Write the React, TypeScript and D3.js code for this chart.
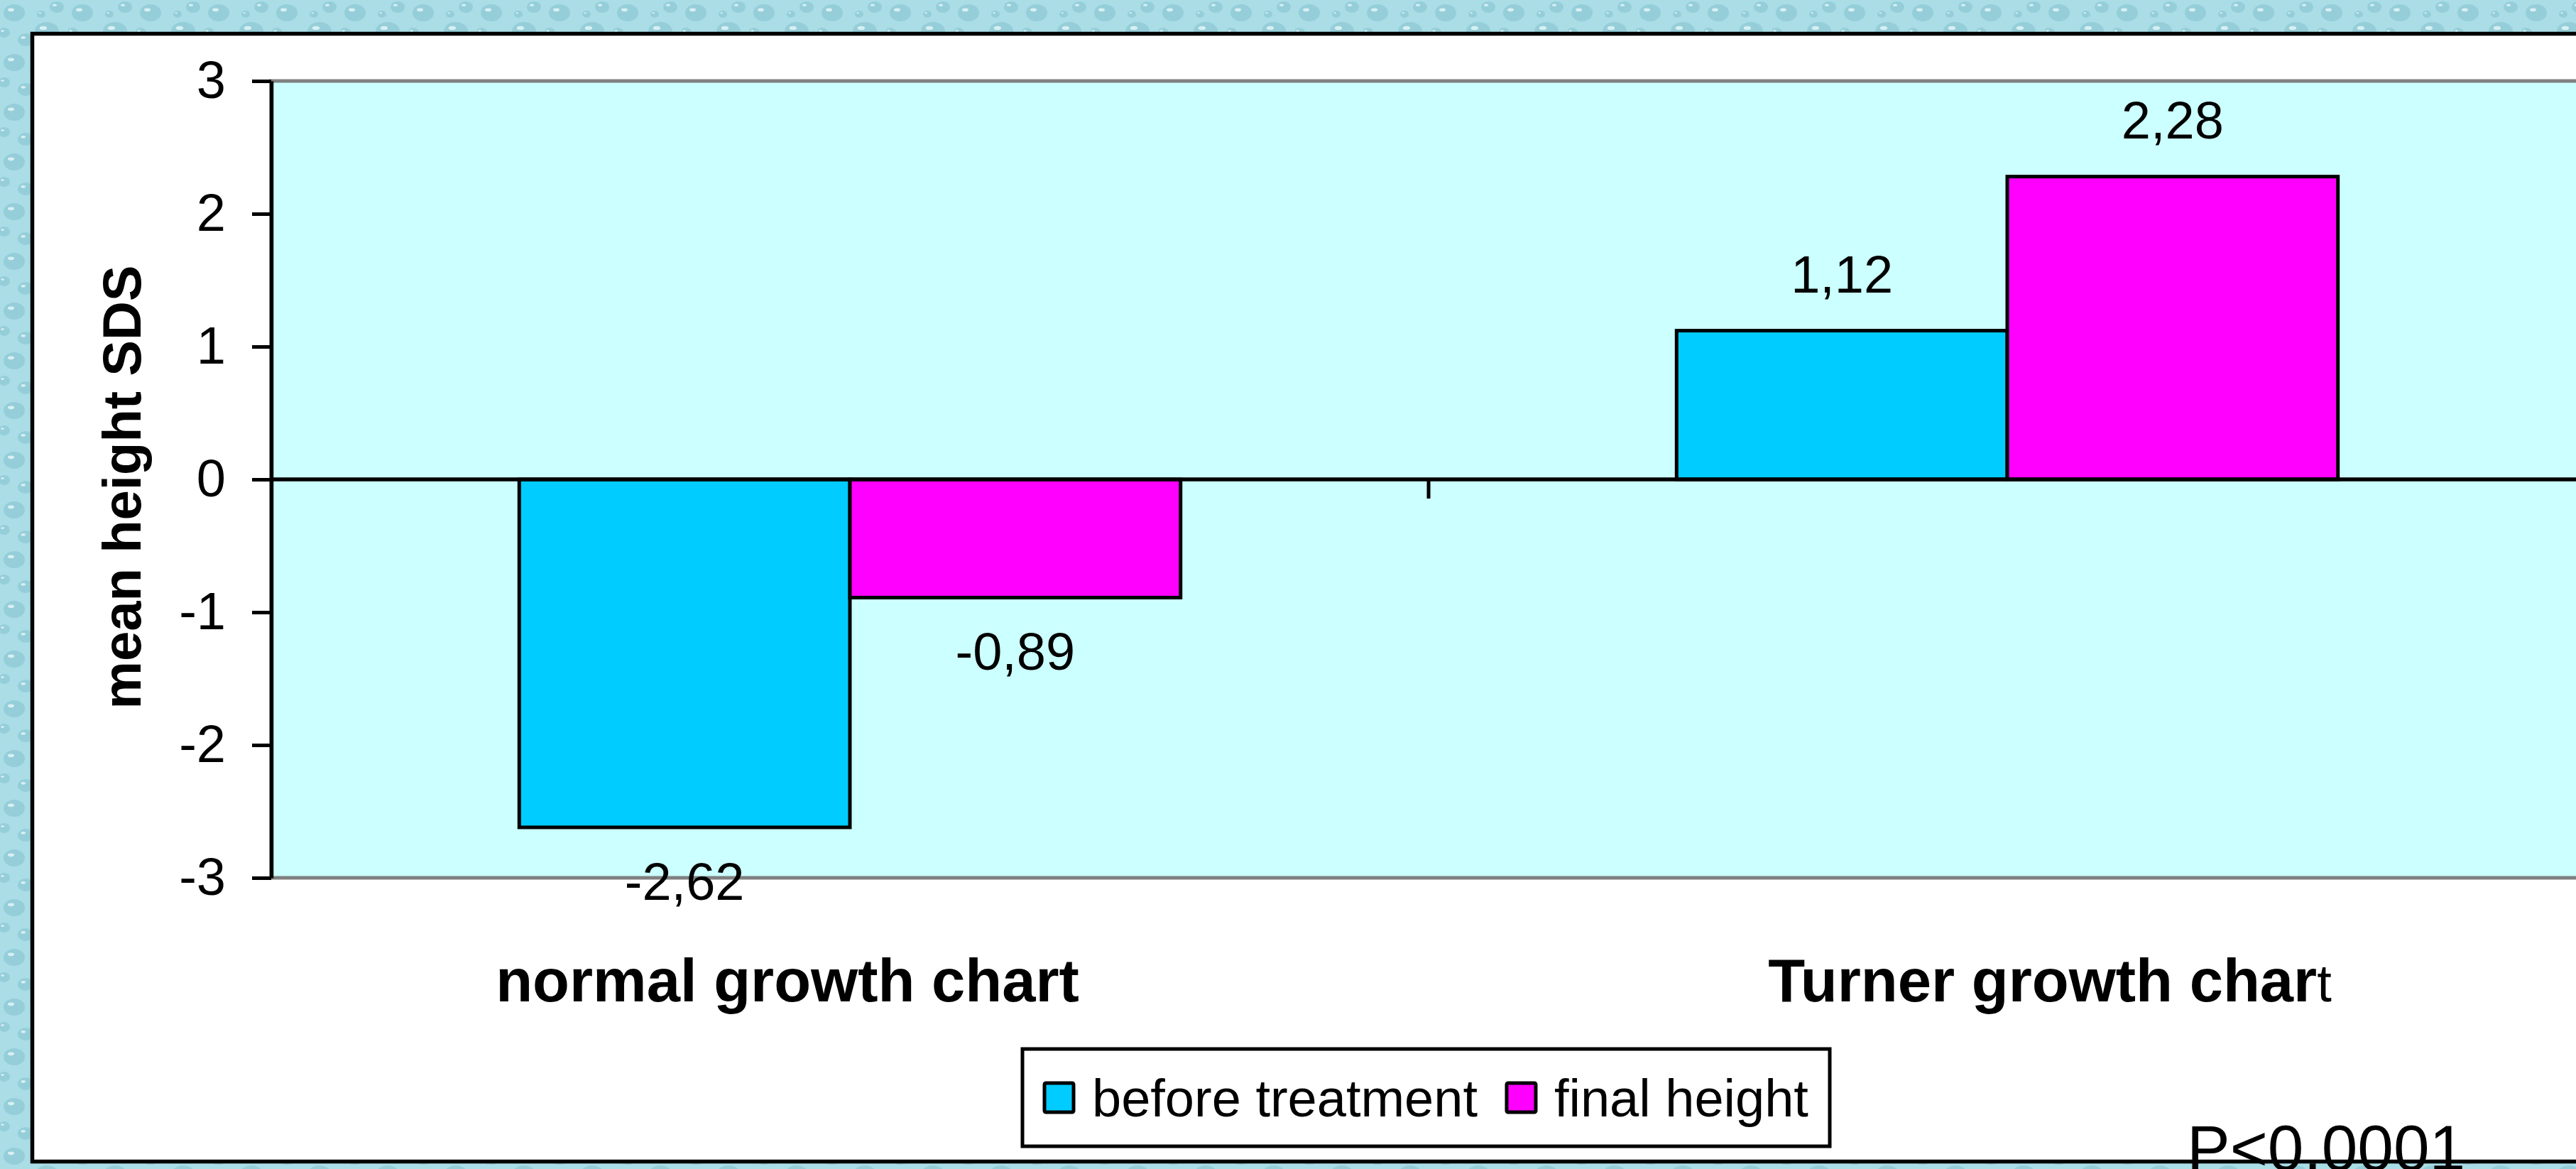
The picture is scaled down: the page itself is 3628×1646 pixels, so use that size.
import React, { useEffect, useRef } from 'react';
import * as d3 from 'd3';

const categories = ['normal growth chart', 'Turner growth chart'];
const seriesNames = ['before treatment', 'final height'];
const beforeTreatment = [-2.62, 1.12];
const finalHeight = [-0.89, 2.28];
const yTicks = [-3, -2, -1, 0, 1, 2, 3];
const yTitle = 'mean height SDS';
const note = 'P<0.0001';

const colors = ['#00ccff', '#ff00ff'];
const FONT = "'Liberation Sans', Arial, Helvetica, sans-serif";

const App = () => {
  const ref = useRef<SVGSVGElement>(null);

  useEffect(() => {
    const W = 3628, H = 1646;
    const svg = d3.select(ref.current).attr('width', W).attr('height', H);
    svg.selectAll('*').remove();

    // water-drop textured backdrop
    const defs = svg.append('defs');
    const pat = defs.append('pattern')
      .attr('id', 'drops')
      .attr('patternUnits', 'userSpaceOnUse')
      .attr('width', 96).attr('height', 70);
    pat.append('rect').attr('width', 96).attr('height', 70).attr('fill', '#aadde6');
    [[20, 18, 15, 12], [66, 44, 17, 13], [80, 10, 10, 8], [36, 56, 11, 9], [6, 46, 8, 7], [58, 20, 6, 5]].forEach(([cx, cy, rx, ry]) => {
      pat.append('ellipse').attr('cx', cx).attr('cy', cy).attr('rx', rx).attr('ry', ry)
        .attr('fill', '#7fbfcc').attr('opacity', 0.5);
      pat.append('ellipse').attr('cx', cx - rx * 0.3).attr('cy', cy - ry * 0.35).attr('rx', rx * 0.3).attr('ry', ry * 0.2)
        .attr('fill', '#eefafc').attr('opacity', 0.75);
    });
    svg.append('rect').attr('width', W).attr('height', H).attr('fill', 'url(#drops)');

    // chart frame
    svg.append('rect')
      .attr('x', 45.5).attr('y', 47.5)
      .attr('width', W).attr('height', 1588)
      .attr('fill', '#fff').attr('stroke', '#000').attr('stroke-width', 5.5);

    const x = d3.scaleBand().domain(categories).range([382, 3642]);
    const xSub = d3.scaleBand().domain(seriesNames).range([0, x.bandwidth()]).paddingOuter(0.75);
    const y = d3.scaleLinear().domain([-3, 3]).range([1236, 114]);

    // plot area
    svg.append('rect')
      .attr('x', 382).attr('y', y(3))
      .attr('width', 3642 - 382).attr('height', y(-3) - y(3))
      .attr('fill', '#ccffff').attr('stroke', '#808080').attr('stroke-width', 5);

    const series = [beforeTreatment, finalHeight];
    const fmt = d3.formatLocale({ decimal: ',', thousands: '.', grouping: [3], currency: ['', ''], minus: '-' }).format('.2f');

    series.forEach((vals, si) => {
      const g = svg.append('g');
      g.selectAll('rect')
        .data(vals)
        .enter().append('rect')
        .attr('x', (d, i) => x(categories[i])! + xSub(seriesNames[si])!)
        .attr('y', d => y(Math.max(0, d)))
        .attr('width', xSub.bandwidth())
        .attr('height', d => Math.abs(y(d) - y(0)))
        .attr('fill', colors[si])
        .attr('stroke', '#000').attr('stroke-width', 5);

      g.selectAll('text')
        .data(vals)
        .enter().append('text')
        .attr('x', (d, i) => x(categories[i])! + xSub(seriesNames[si])! + xSub.bandwidth() / 2)
        .attr('y', d => (d >= 0 ? y(d) - 54 : y(d) + 102))
        .attr('text-anchor', 'middle')
        .attr('font-family', FONT).attr('font-size', 74)
        .text(d => fmt(d));
    });

    // zero line with category ticks
    svg.append('line')
      .attr('x1', 382).attr('x2', 3642).attr('y1', y(0)).attr('y2', y(0))
      .attr('stroke', '#000').attr('stroke-width', 5.5);
    svg.append('g').selectAll('line')
      .data(categories.slice(1))
      .enter().append('line')
      .attr('x1', d => x(d)!).attr('x2', d => x(d)!)
      .attr('y1', y(0)).attr('y2', y(0) + 27)
      .attr('stroke', '#000').attr('stroke-width', 5);

    // y axis
    const yAxis = svg.append('g')
      .attr('transform', 'translate(382,0)')
      .call(d3.axisLeft(y).tickValues(yTicks).tickSize(27).tickSizeOuter(0).tickPadding(37).tickFormat(d => String(d)));
    yAxis.select('.domain').attr('stroke', '#000').attr('stroke-width', 5.5);
    yAxis.selectAll('.tick line').attr('stroke', '#000').attr('stroke-width', 5);
    yAxis.selectAll('.tick text')
      .attr('font-family', FONT).attr('font-size', 74).attr('fill', '#000');

    svg.append('text')
      .attr('transform', 'translate(198,686) rotate(-90)')
      .attr('text-anchor', 'middle')
      .attr('font-family', FONT).attr('font-size', 76).attr('font-weight', 'bold')
      .text(yTitle);

    // category labels (sit a little off the band centres, as in the original)
    const labelShift = [-88, 60];
    categories.forEach((c, i) => {
      const t = svg.append('text')
        .attr('x', x(c)! + x.bandwidth() / 2 + labelShift[i])
        .attr('y', 1410)
        .attr('text-anchor', 'middle')
        .attr('font-family', FONT).attr('font-size', 85).attr('font-weight', 'bold');
      if (i === 1) {
        t.append('tspan').text(c.slice(0, -1));
        t.append('tspan').attr('font-weight', 'normal').attr('font-size', 74).text(c.slice(-1));
      } else {
        t.text(c);
      }
    });

    // legend
    const lg = svg.append('g');
    lg.append('rect')
      .attr('x', 1440).attr('y', 1477).attr('width', 1137).attr('height', 137)
      .attr('fill', '#fff').attr('stroke', '#000').attr('stroke-width', 5);
    let lx = 1471;
    seriesNames.forEach((s, i) => {
      lg.append('rect')
        .attr('x', lx).attr('y', 1525).attr('width', 41).attr('height', 41)
        .attr('fill', colors[i]).attr('stroke', '#000').attr('stroke-width', 5).attr('rx', 2);
      const t = lg.append('text')
        .attr('x', lx + 67).attr('y', 1572)
        .attr('font-family', FONT).attr('font-size', 74)
        .text(s);
      const w = (t.node() as SVGTextElement).getComputedTextLength();
      lx = lx + 67 + w + 41;
    });

    // the p-value runs past the frame's bottom edge in the original
    svg.append('text')
      .attr('x', 3080).attr('y', 1648)
      .attr('font-family', FONT).attr('font-size', 91)
      .text(note);
  }, []);

  return <svg ref={ref} style={{ position: 'absolute', left: 0, top: 0 }}></svg>;
};

export default App;
